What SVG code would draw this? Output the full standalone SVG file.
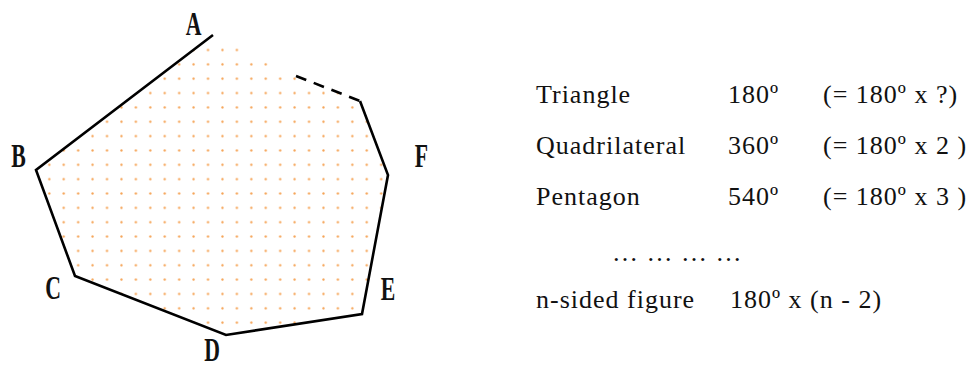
<svg xmlns="http://www.w3.org/2000/svg" width="973" height="369" viewBox="0 0 973 369">
  <style>
    .edge { fill: none; stroke: #000; stroke-width: 2.6; stroke-linejoin: miter; stroke-linecap: butt; }
    .dash { stroke-dasharray: 11 8; }
    .vlabel { font-family: "Liberation Serif", "Times New Roman", serif; font-size: 33px; font-weight: bold; fill: #111; text-anchor: middle; }
    .txt { font-family: "Liberation Serif", "Times New Roman", serif; font-size: 26px; fill: #111; letter-spacing: 1px; }
  </style>
  <defs>
    <pattern id="dots" patternUnits="userSpaceOnUse" x="42.085" y="42.825" width="14.43" height="14.35">
      <circle cx="7.215" cy="7.175" r="1.15" fill="#f5a355"/>
    </pattern>
  </defs>
  <rect width="973" height="369" fill="#fff"/>

  <g id="polygon">
    <polygon points="213,35 36,170 75,276 226,335 362,314 388,175 360,101 296,76" fill="url(#dots)" stroke="none"/>
    <polyline class="edge" points="213,35 36,170 75,276 226,335 362,314 388,175 360,101"/>
    <line class="edge dash" x1="296" y1="76" x2="360" y2="101"/>
  </g>

  <g id="vertex-labels">
    <text class="vlabel" transform="translate(193.5,35) scale(0.66,1)">A</text>
    <text class="vlabel" transform="translate(18.5,167) scale(0.66,1)">B</text>
    <text class="vlabel" transform="translate(53,299) scale(0.66,1)">C</text>
    <text class="vlabel" transform="translate(212,361) scale(0.66,1)">D</text>
    <text class="vlabel" transform="translate(388,300) scale(0.66,1)">E</text>
    <text class="vlabel" transform="translate(421.5,167) scale(0.66,1)">F</text>
  </g>

  <g id="table">
    <text class="txt" x="536" y="103">Triangle</text>
    <text class="txt" x="728" y="103">180º</text>
    <text class="txt" x="823" y="103">(= 180º x ?)</text>

    <text class="txt" x="536" y="154">Quadrilateral</text>
    <text class="txt" x="728" y="154">360º</text>
    <text class="txt" x="823" y="154">(= 180º x 2 )</text>

    <text class="txt" x="536" y="205">Pentagon</text>
    <text class="txt" x="728" y="205">540º</text>
    <text class="txt" x="823" y="205">(= 180º x 3 )</text>

    <text class="txt" x="612" y="261" letter-spacing="0">… … … …</text>

    <text class="txt" x="536" y="308">n-sided figure</text>
    <text class="txt" x="730" y="308">180º x (n - 2)</text>
  </g>
</svg>
